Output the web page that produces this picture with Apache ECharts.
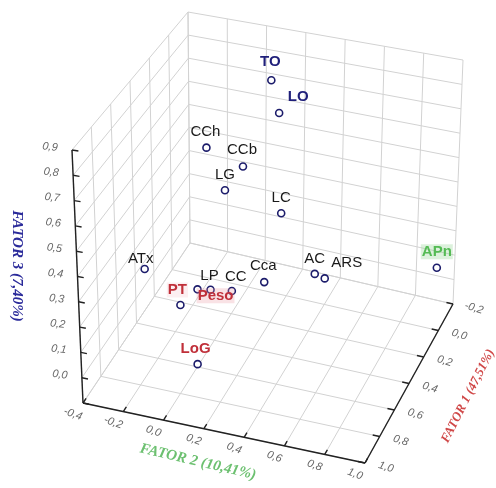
<!DOCTYPE html>
<html>
<head>
<meta charset="utf-8">
<script src="https://cdn.jsdelivr.net/npm/echarts@6/dist/echarts.min.js"></script>
<style>
  html, body { margin: 0; padding: 0; background: #fff; }
  #main { width: 496px; height: 488px; }
</style>
</head>
<body>
<div id="main"></div>
<script>
// variables and their loadings on the three factors
var names  = ['TO', 'LO', 'CCh', 'CCb', 'LG', 'LC', 'ATx', 'LP', 'Peso', 'CC', 'Cca', 'PT', 'LoG', 'AC', 'ARS', 'APn'];
var fator2 = [0.16, 0.20, -0.03, 0.15, 0.06, 0.34, -0.21, 0.05, 0.20, 0.22, 0.38, 0.03, 0.11, 0.55, 0.60, 0.98];
var fator1 = [0.10, 0.10, 0.40, 0.40, 0.40, 0.40, 0.70, 0.70, 0.90, 0.70, 0.70, 0.85, 0.85, 0.50, 0.50, 0.00];
var fator3 = [0.84, 0.71, 0.68, 0.63, 0.52, 0.47, 0.31, 0.27, 0.39, 0.29, 0.35, 0.28, 0.06, 0.31, 0.30, 0.15];

var f2Ticks = [-0.4, -0.2, 0.0, 0.2, 0.4, 0.6, 0.8, 1.0];
var f1Ticks = [-0.2, 0.0, 0.2, 0.4, 0.6, 0.8, 1.0];
var f3Ticks = [-0.1, 0.0, 0.1, 0.2, 0.3, 0.4, 0.5, 0.6, 0.7, 0.8, 0.9];
var f3Labels = [0.0, 0.1, 0.2, 0.3, 0.4, 0.5, 0.6, 0.7, 0.8, 0.9];

// box limits and the view: floor corners on screen + vertical edge per unit of fator 3
var box = { x0: -0.4, x1: 1.0, y0: 1.0, y1: -0.2, z0: -0.1, z1: 0.9 };
var floorA = [83, 403], floorB = [365, 463], floorC = [453, 304], floorD = [190, 243];
var upA = [-11, -253], upB = [6, -265], upC = [10, -244], upD = [-2, -231];

function project(x, y, z) {
  var s = (x - box.x0) / (box.x1 - box.x0);
  var t = (y - box.y0) / (box.y1 - box.y0);
  var w = z - box.z0;
  var a = (1 - s) * (1 - t), b = s * (1 - t), c = s * t, d = (1 - s) * t;
  var out = [];
  for (var k = 0; k < 2; k++) {
    out.push(a * floorA[k] + b * floorB[k] + c * floorC[k] + d * floorD[k] +
      w * (a * upA[k] + b * upB[k] + c * upC[k] + d * upD[k]));
  }
  return out;
}
function seg(p, q) {
  var a = project(p[0], p[1], p[2]), b = project(q[0], q[1], q[2]);
  return [a[0], a[1], b[0], b[1]];
}

// wall grids
var gridLines = [];
f2Ticks.forEach(function (x) {
  gridLines.push(seg([x, box.y0, box.z0], [x, box.y1, box.z0]));
  gridLines.push(seg([x, box.y1, box.z0], [x, box.y1, box.z1]));
});
f1Ticks.forEach(function (y) {
  gridLines.push(seg([box.x0, y, box.z0], [box.x1, y, box.z0]));
  gridLines.push(seg([box.x0, y, box.z0], [box.x0, y, box.z1]));
});
f3Ticks.forEach(function (z) {
  gridLines.push(seg([box.x0, box.y1, z], [box.x1, box.y1, z]));
  gridLines.push(seg([box.x0, box.y0, z], [box.x0, box.y1, z]));
});

// axes and ticks
var axisLines = [
  seg([box.x0, box.y0, box.z0], [box.x0, box.y0, box.z1]),
  seg([box.x0, box.y0, box.z0], [box.x1, box.y0, box.z0]),
  seg([box.x1, box.y0, box.z0], [box.x1, box.y1, box.z0])
];
f3Ticks.forEach(function (z) { axisLines.push(seg([box.x0, box.y0, z], [box.x0 + 0.03, box.y0, z])); });
f2Ticks.forEach(function (x) { axisLines.push(seg([x, box.y0, box.z0], [x, box.y0 - 0.035, box.z0])); });
f1Ticks.forEach(function (y) { axisLines.push(seg([box.x1, y, box.z0], [box.x1 - 0.035, y, box.z0])); });

function fmt(v) { return v.toFixed(1).replace('.', ','); }
var tickTexts = [];
f3Labels.forEach(function (z) {
  var p = project(box.x0, box.y0, z);
  tickTexts.push({ value: [p[0] - 22, p[1] - 3], text: fmt(z), rot: -0.12 });
});
f2Ticks.forEach(function (x) {
  var p = project(x, box.y0, box.z0);
  tickTexts.push({ value: [p[0] - 10, p[1] + 11], text: fmt(x), rot: -0.35 });
});
f1Ticks.forEach(function (y) {
  var p = project(box.x1, y, box.z0);
  tickTexts.push({ value: [p[0] + 21, p[1] + 4], text: fmt(y), rot: -0.3 });
});

var labelOffset = {
  TO: [-1, -18], LO: [19, -16], CCh: [-1, -16], CCb: [-1, -17], LG: [0, -15], LC: [0, -15],
  ATx: [-4, -10], LP: [12, -13], Peso: [5, 6], CC: [4, -14], Cca: [-1, -16], PT: [-3, -15],
  LoG: [-2, -15], AC: [0, -15], ARS: [22, -16], APn: [0, -16]
};
var labelColor = { TO: '#1f1f7a', LO: '#1f1f7a', Peso: '#c0303a', PT: '#c0303a', LoG: '#c0303a', APn: '#55bb55' };
var labelBg = { Peso: 'rgba(235,150,160,0.28)', PT: 'rgba(235,150,160,0.15)', APn: 'rgba(140,210,140,0.3)' };

var points = names.map(function (n, i) {
  var p = project(fator2[i], fator1[i], fator3[i]);
  var strong = labelColor[n] !== undefined;
  return {
    name: n,
    value: p,
    label: {
      show: true, position: 'inside', offset: labelOffset[n], formatter: n,
      color: labelColor[n] || '#1a1a1a', fontSize: 15, fontWeight: strong ? 'bold' : 'normal',
      fontFamily: 'Liberation Sans, Arial, sans-serif',
      backgroundColor: labelBg[n] || 'transparent', padding: labelBg[n] ? [0, 1] : 0
    }
  };
});

var chart = echarts.init(document.getElementById('main'));

chart.setOption({
  animation: false,
  grid: { left: 0, right: 0, top: 0, bottom: 0 },
  xAxis: { type: 'value', min: 0, max: 496, show: false },
  yAxis: { type: 'value', min: 0, max: 488, inverse: true, show: false },
  graphic: [
    { type: 'text', x: 198, y: 462, rotation: -0.23,
      style: { text: 'FATOR 2 (10,41%)', fill: '#6cc070', font: 'italic bold 15px "Liberation Serif", serif', align: 'center', verticalAlign: 'middle' } },
    { type: 'text', x: 17, y: 266, rotation: -Math.PI / 2,
      style: { text: 'FATOR 3 (7,40%)', fill: '#2a2a9a', font: 'italic bold 15px "Liberation Serif", serif', align: 'center', verticalAlign: 'middle' } },
    { type: 'text', x: 468, y: 396, rotation: 1.1,
      style: { text: 'FATOR 1 (47,51%)', fill: '#d04848', font: 'italic bold 13px "Liberation Serif", serif', align: 'center', verticalAlign: 'middle' } }
  ],
  series: [
    {
      type: 'custom', name: 'grid', silent: true, z: 1,
      data: gridLines,
      renderItem: function (params, api) {
        var a = api.coord([api.value(0), api.value(1)]);
        var b = api.coord([api.value(2), api.value(3)]);
        return { type: 'line', shape: { x1: a[0], y1: a[1], x2: b[0], y2: b[1] },
          style: { stroke: '#d2d2d2', lineWidth: 1 } };
      }
    },
    {
      type: 'custom', name: 'axes', silent: true, z: 2,
      data: axisLines,
      renderItem: function (params, api) {
        var a = api.coord([api.value(0), api.value(1)]);
        var b = api.coord([api.value(2), api.value(3)]);
        return { type: 'line', shape: { x1: a[0], y1: a[1], x2: b[0], y2: b[1] },
          style: { stroke: '#222', lineWidth: 1.4 } };
      }
    },
    {
      type: 'custom', name: 'ticks', silent: true, z: 2,
      data: tickTexts.map(function (d) { return d.value; }),
      renderItem: function (params, api) {
        var p = api.coord([api.value(0), api.value(1)]);
        var d = tickTexts[params.dataIndex];
        return { type: 'text', x: p[0], y: p[1], rotation: d.rot,
          style: { text: d.text, fill: '#666', font: 'italic 11px "Liberation Sans", sans-serif', align: 'center', verticalAlign: 'middle' } };
      }
    },
    {
      type: 'scatter', name: 'variaveis', z: 3,
      symbol: 'circle', symbolSize: 7,
      itemStyle: { color: '#ffffff', borderColor: '#1c1c6b', borderWidth: 1.6, opacity: 1 },
      data: points
    }
  ]
});
</script>
</body>
</html>
